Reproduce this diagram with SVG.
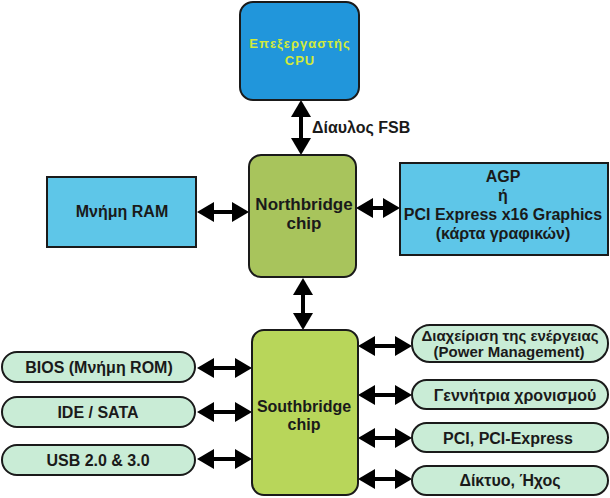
<svg xmlns="http://www.w3.org/2000/svg" width="610" height="498" viewBox="0 0 610 498">
<style>
  .t { font-family: "Liberation Sans", Arial, sans-serif; font-weight: bold; font-size: 16px; fill: #1a1a1a; text-anchor: middle; }
  .box { stroke: #1a1a1a; stroke-width: 2; }
  .blue { fill: #5ec6e8; }
  .pill { fill: #c9ecd6; stroke: #1a1a1a; stroke-width: 2; }
  .arr { stroke: #000; stroke-width: 4; fill: none; marker-start: url(#ah); marker-end: url(#ah); }
</style>
<defs>
  <marker id="ah" markerUnits="userSpaceOnUse" viewBox="0 0 17 20" markerWidth="17" markerHeight="20" refX="0" refY="10" orient="auto-start-reverse">
    <path d="M0,0 L17,10 L0,20 Z" fill="#000"/>
  </marker>
</defs>
<rect width="610" height="498" fill="#ffffff"/>

<g id="connectors">
  <line class="arr" x1="301" y1="117" x2="301" y2="138"/>
  <line class="arr" x1="303" y1="295" x2="303" y2="313"/>
  <line class="arr" x1="214" y1="212" x2="232" y2="212"/>
  <line class="arr" x1="373" y1="208" x2="383" y2="208"/>
  <line class="arr" x1="214" y1="368" x2="235" y2="368"/>
  <line class="arr" x1="214" y1="412" x2="235" y2="412"/>
  <line class="arr" x1="214" y1="459" x2="235" y2="459"/>
  <line class="arr" x1="375" y1="346" x2="395" y2="346"/>
  <line class="arr" x1="375" y1="395" x2="395" y2="395"/>
  <line class="arr" x1="375" y1="438" x2="395" y2="438"/>
  <line class="arr" x1="375" y1="479" x2="395" y2="479"/>
  <text class="t" x="312" y="133" style="text-anchor:start">Δίαυλος FSB</text>
</g>

<g id="cpu">
  <rect class="box" x="240" y="2" width="119" height="98" rx="13" fill="#2196db"/>
  <text class="t" x="300" y="48" style="font-size:13px;fill:#d2ea3a;letter-spacing:1px">Επεξεργαστής</text>
  <text class="t" x="300" y="65" style="font-size:13px;fill:#d2ea3a;letter-spacing:1px">CPU</text>
</g>

<g id="northbridge">
  <rect class="box" x="249" y="155" width="107" height="122" rx="12" fill="#a8c45c"/>
  <text class="t" x="304" y="210" style="font-size:17px">Northbridge</text>
  <text class="t" x="304" y="229" style="font-size:17px">chip</text>
</g>

<g id="ram">
  <rect class="box blue" x="47" y="177" width="149" height="70"/>
  <text class="t" x="122" y="217">Μνήμη RAM</text>
</g>

<g id="agp">
  <rect class="box blue" x="400" y="163" width="208" height="92"/>
  <text class="t" x="503" y="182">AGP</text>
  <text class="t" x="503" y="201">ή</text>
  <text class="t" x="503" y="220">PCI Express x16 Graphics</text>
  <text class="t" x="503" y="239">(κάρτα γραφικών)</text>
</g>

<g id="southbridge">
  <rect class="box" x="252" y="330" width="106" height="165" rx="12" fill="#b8d65a"/>
  <text class="t" x="304" y="412">Southbridge</text>
  <text class="t" x="304" y="430">chip</text>
</g>

<g id="bios">
  <rect class="pill" x="2" y="352" width="193" height="30" rx="15"/>
  <text class="t" x="99" y="373">BIOS (Μνήμη ROM)</text>
</g>
<g id="ide">
  <rect class="pill" x="2" y="397" width="193" height="30" rx="15"/>
  <text class="t" x="98" y="418">IDE / SATA</text>
</g>
<g id="usb">
  <rect class="pill" x="2" y="445" width="193" height="30" rx="15"/>
  <text class="t" x="98" y="466">USB 2.0 &amp; 3.0</text>
</g>

<g id="power">
  <rect class="pill" x="412" y="325" width="196" height="37" rx="18"/>
  <text class="t" x="510" y="341" style="font-size:15px">Διαχείριση της ενέργειας</text>
  <text class="t" x="509" y="357" style="font-size:15px">(Power Management)</text>
</g>
<g id="clock">
  <rect class="pill" x="412" y="380" width="196" height="29" rx="14.5"/>
  <text class="t" x="515" y="401">Γεννήτρια χρονισμού</text>
</g>
<g id="pci">
  <rect class="pill" x="412" y="423" width="196" height="29" rx="14.5"/>
  <text class="t" x="508" y="444">PCI, PCI-Express</text>
</g>
<g id="net">
  <rect class="pill" x="412" y="466" width="196" height="29" rx="14.5"/>
  <text class="t" x="510" y="486">Δίκτυο, Ήχος</text>
</g>
</svg>
